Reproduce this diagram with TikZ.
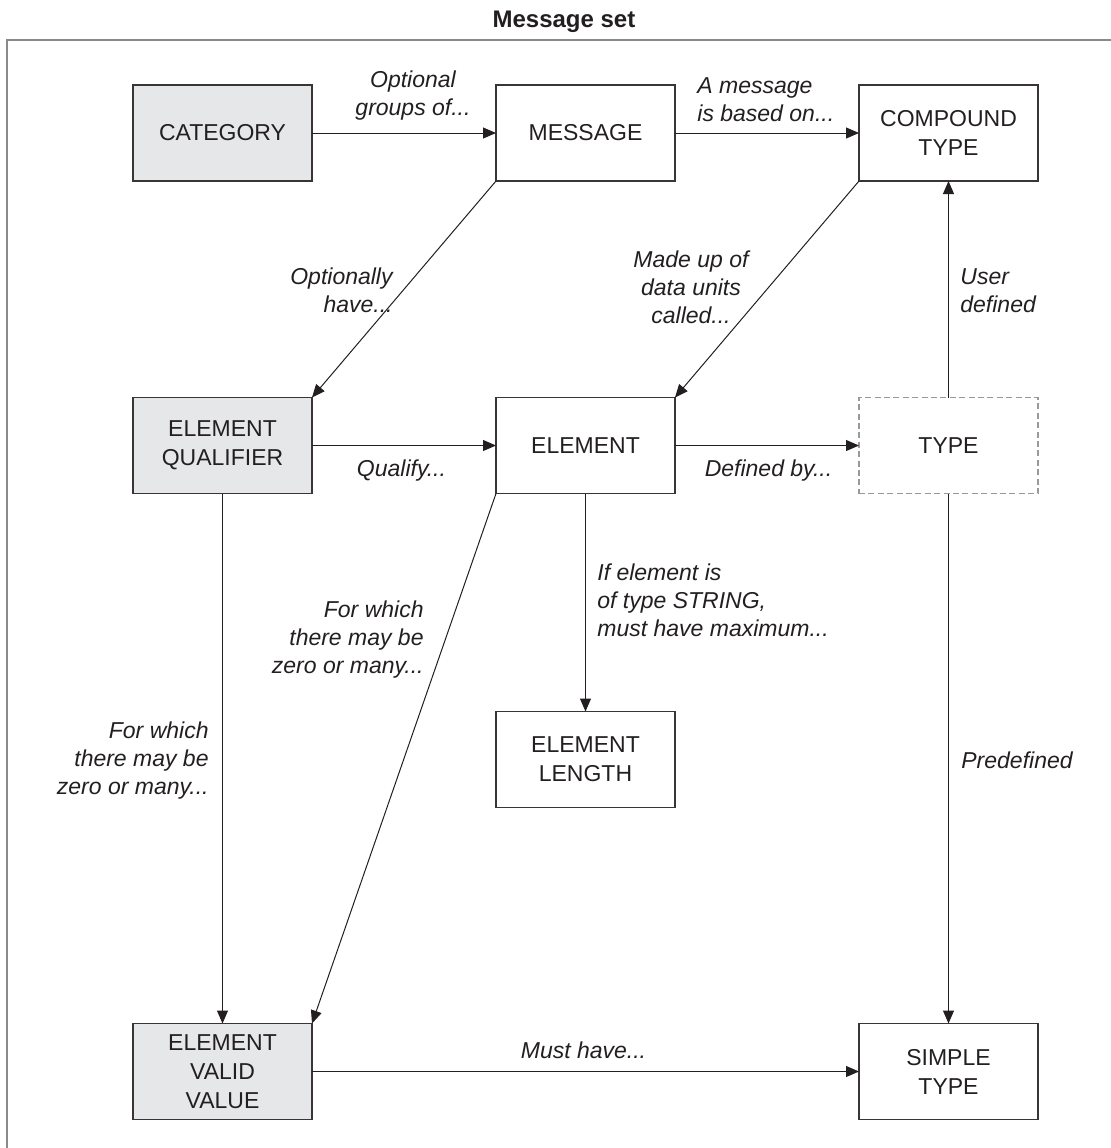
\documentclass[tikz,border=0pt]{standalone}
\usepackage{fontspec}
\setmainfont{Liberation Sans}
\usetikzlibrary{arrows.meta, positioning}
\definecolor{boxgray}{HTML}{E6E7E8}
\definecolor{ink}{HTML}{231F20}
\definecolor{framegray}{HTML}{8A8A8A}
\tikzstyle{entity} = [rectangle, draw=ink!90, line width=0.6pt, text=ink, align=center, minimum width=89.5pt, minimum height=48pt, inner sep=0pt, outer sep=0pt, font=\fontsize{11.5}{14.5}\selectfont]
\tikzstyle{shaded} = [entity, fill=boxgray]
\tikzstyle{abstract} = [entity, draw=gray!80, dash pattern=on 3pt off 1.7pt, line width=0.7pt]
\tikzstyle{note} = [inner sep=0pt, text=ink, font=\fontsize{11.5}{14}\selectfont\itshape]
\tikzstyle{connector} = [draw=ink, line width=0.5pt, -{Triangle[length=6.5pt, width=5.5pt]}]

\begin{document}
\begin{tikzpicture}[x=0.5pt, y=-0.5pt, node distance=108.25pt and 92pt]
            \useasboundingbox (0,0) rectangle (1111,1148);
            \node[text=ink, anchor=base, font=\fontsize{12}{14}\selectfont\bfseries] (title) at (564,27) {Message set};
            \draw[framegray, line width=1pt] (7,1148) -- (7,40) -- (1111,40);

            \node[shaded] (category) at (222.5,133) {CATEGORY};
            \node[entity, right=of category] (message) {MESSAGE};
            \node[entity, right=of message] (compound) {COMPOUND\\TYPE};
            \node[shaded, below=of category] (qualifier) {ELEMENT\\QUALIFIER};
            \node[entity, right=of qualifier] (element) {ELEMENT};
            \node[abstract, right=of element] (type) {TYPE};
            \node[entity, below=109pt of element] (length) {ELEMENT\\LENGTH};
            \node[shaded, below=265pt of qualifier] (validvalue) {ELEMENT\\VALID\\VALUE};
            \node[entity, below=265pt of type] (simple) {SIMPLE\\TYPE};

            \node[note, anchor=north, align=center] (l_groups) at (413,70) {Optional\\groups of...};
            \node[note, anchor=north west, align=left] (l_based) at (697,77) {A message\\is based on...};
            \node[note, anchor=north east, align=right] (l_have) at (393,267) {Optionally\\have...};
            \node[note, anchor=north, align=center] (l_made) at (691,250) {Made up of\\data units\\called...};
            \node[note, anchor=north west, align=left] (l_user) at (960,268) {User\\defined};
            \node[note, anchor=north] (l_qualify) at (401.5,459) {Qualify...};
            \node[note, anchor=north] (l_defined) at (768.5,459) {Defined by...};
            \node[note, anchor=north west, align=left] (l_string) at (597,563) {If element is\\of type STRING,\\must have maximum...};
            \node[note, anchor=north east, align=right] (l_many) at (424,600) {For which\\there may be\\zero or many...};
            \node[note, anchor=north east, align=right] (l_many2) at (209,721) {For which\\there may be\\zero or many...};
            \node[note, anchor=north west] (l_predef) at (961,751) {Predefined};
            \node[note, anchor=north] (l_must) at (583.5,1041) {Must have...};

            \draw[connector] (category) -- (message);
            \draw[connector] (message) -- (compound);
            \draw[connector] (message.south west) -- (qualifier.north east);
            \draw[connector] (compound.south west) -- (element.north east);
            \draw[connector] (type) -- (compound);
            \draw[connector] (qualifier) -- (element);
            \draw[connector] (element) -- (type);
            \draw[connector] (element) -- (length);
            \draw[connector] (element.south west) -- (validvalue.north east);
            \draw[connector] (qualifier) -- (validvalue);
            \draw[connector] (type) -- (simple);
            \draw[connector] (validvalue) -- (simple);
        \end{tikzpicture}
\end{document}
